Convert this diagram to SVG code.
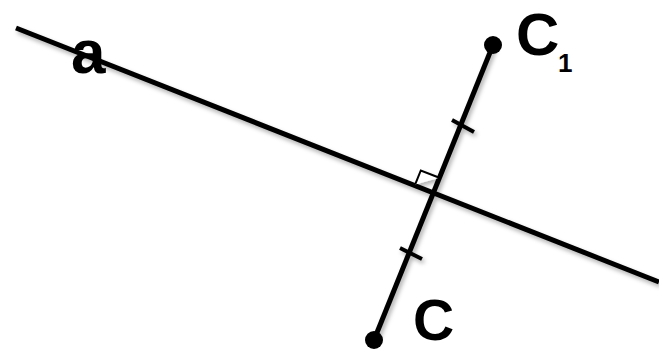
<svg xmlns="http://www.w3.org/2000/svg" width="659" height="352" viewBox="0 0 659 352">
<style>
.ln{stroke:#000;stroke-width:5;fill:none;stroke-linecap:butt}
.tk{stroke:#000;stroke-width:4;fill:none}
.ra{stroke:#000;stroke-width:2;fill:#fff}
.pt{fill:#000}
.lb{font-family:"Liberation Sans",Arial,sans-serif;font-weight:bold;fill:#000}
</style>
<defs>
<filter id="sh" x="-10%" y="-10%" width="130%" height="130%">
<feDropShadow dx="2" dy="3" stdDeviation="2" flood-color="#000" flood-opacity="0.3"/>
</filter>
</defs>
<g id="connectors" filter="url(#sh)">
<line class="ln" x1="16" y1="28" x2="659" y2="282"/>
<line class="ln" x1="374" y1="340" x2="493" y2="45"/>
<polyline class="ra" points="415.2,184.4 420.8,170.5 439.4,177.8"/>
<line class="tk" x1="452" y1="120" x2="474" y2="132"/>
<line class="tk" x1="400" y1="248" x2="422" y2="259"/>
</g>
<g id="C1">
<circle class="pt" cx="493" cy="45" r="9"/>
<text class="lb" x="516" y="55" font-size="60">C</text>
<text class="lb" x="558" y="72" font-size="26">1</text>
</g>
<g id="C">
<circle class="pt" cx="374" cy="340" r="9"/>
<text class="lb" x="413" y="340" font-size="57">C</text>
</g>
<g id="a">
<text class="lb" x="71" y="73" font-size="62">a</text>
</g>
</svg>
